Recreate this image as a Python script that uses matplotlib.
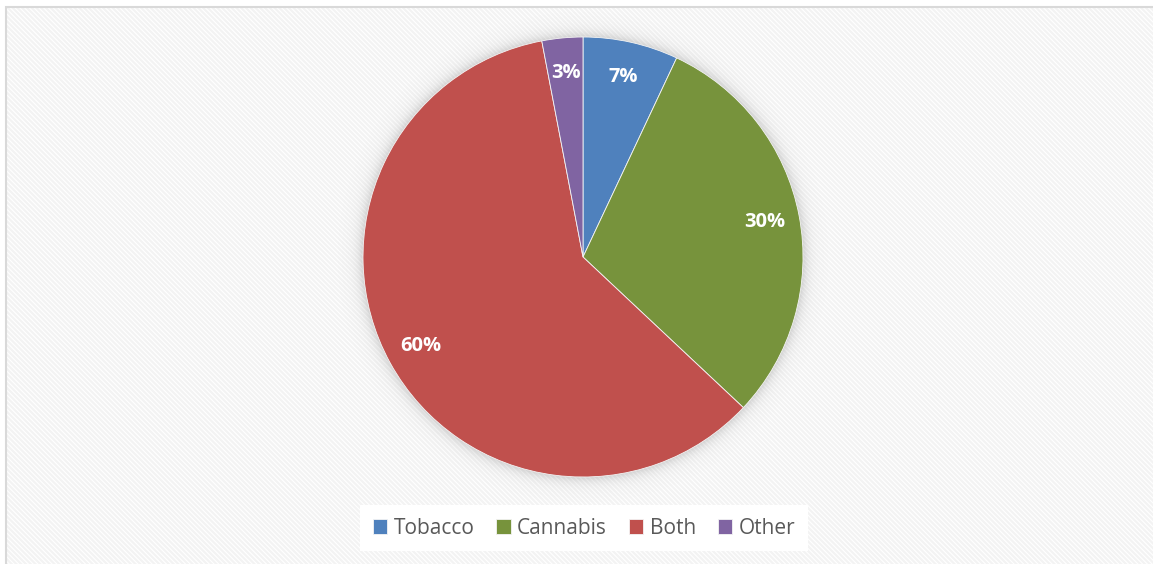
import numpy as np
import matplotlib.pyplot as plt
from matplotlib.patches import Rectangle

# Share of respondents by product used
categories = ['Tobacco', 'Cannabis', 'Both', 'Other']
shares = [7, 30, 60, 3]
colors = ['#4F81BD', '#77933C', '#C0504D', '#8064A2']

W, H = 1153, 564
plt.rcParams['hatch.linewidth'] = 1.6

fig = plt.figure(figsize=(W / 100, H / 100), dpi=100)
ax = fig.add_axes([0, 0, 1, 1])
ax.set_xlim(0, W)
ax.set_ylim(0, H)
ax.set_aspect('equal')
ax.axis('off')

# chart area: faint diagonal stripes with a light grey border
area = dict(xy=(6, -10), width=W + 10, height=H - 7 + 10)
ax.add_patch(Rectangle(**area, facecolor='white', edgecolor='none', zorder=0))
ax.add_patch(Rectangle(**area, facecolor='none', edgecolor='#f3f3f3',
                       hatch='\\' * 7, linewidth=0, zorder=0.5))
ax.add_patch(Rectangle(**area, facecolor='none', edgecolor='#d9d9d9',
                       linewidth=1.5, zorder=0.6))

cx, cy, r = 583, 307, 220

# soft glow around the pie
ext = 30
xs = np.linspace(cx - r - ext, cx + r + ext, 400)
ys = np.linspace(cy - r - ext, cy + r + ext, 400)
X, Y = np.meshgrid(xs, ys)
d = np.hypot(X - cx, Y - cy) - r
alpha = np.where(d > -2, 0.3 * np.exp(-np.clip(d, 0, None) / 6.0), 0)
glow = np.zeros(X.shape + (4,))
glow[..., :3] = 0.45
glow[..., 3] = alpha
ax.imshow(glow, extent=(xs[0], xs[-1], ys[0], ys[-1]), origin='lower',
          zorder=1, interpolation='bilinear')

wedges, _, autotexts = ax.pie(
    shares, colors=colors, startangle=90, counterclock=False,
    center=(cx, cy), radius=r, autopct='%1.0f%%', pctdistance=0.84,
    wedgeprops=dict(edgecolor='#f4f4f4', linewidth=0.6, zorder=2),
    textprops=dict(color='white', fontsize=14.5, fontweight='bold',
                   family=['Open Sans', 'DejaVu Sans']))
for t in autotexts:
    t.set_zorder(3)
ax.set_xlim(0, W)
ax.set_ylim(0, H)

leg = ax.legend(wedges, categories, loc='center', bbox_to_anchor=(584 / W, 1 - 528 / H),
                bbox_transform=fig.transFigure, ncol=4, frameon=True, fancybox=False,
                handlelength=0.7, handleheight=0.7, handletextpad=0.3,
                columnspacing=1.05, borderpad=0.6,
                prop=dict(family=['Open Sans', 'DejaVu Sans'], size=15))
leg.get_frame().set_facecolor('white')
leg.get_frame().set_edgecolor('none')
leg.get_frame().set_alpha(1)
for t in leg.get_texts():
    t.set_color('#595959')

fig.savefig('out.png', dpi=100)
